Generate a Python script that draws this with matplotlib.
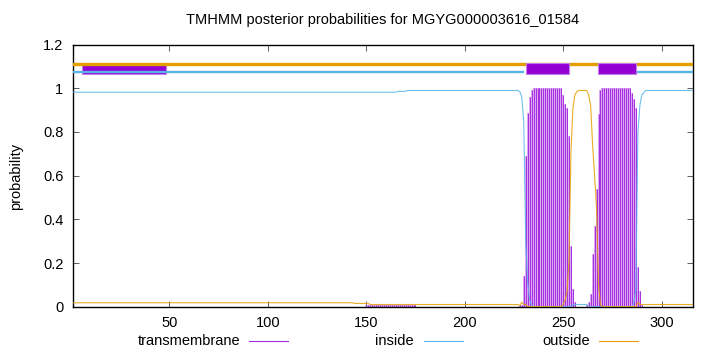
import numpy as np
import matplotlib
matplotlib.use("Agg")
import matplotlib.pyplot as plt
from matplotlib.patches import Rectangle
from matplotlib.lines import Line2D

plt.rcParams["font.family"] = ["Liberation Sans", "DejaVu Sans"]

TITLE = "TMHMM posterior probabilities for MGYG000003616_01584"
SEQ_LEN = 316

# per-residue posteriors, as (first, last, value) runs
tm_runs = [
    (1, 149, 0.0), (150, 175, 0.006), (176, 227, 0.0),
    (228, 228, 0.01), (229, 229, 0.01), (230, 230, 0.14), (231, 231, 0.69),
    (232, 232, 0.885), (233, 233, 0.96), (234, 234, 0.99), (235, 249, 1.0),
    (250, 250, 0.97), (251, 251, 0.93), (252, 252, 0.91), (253, 253, 0.78),
    (254, 254, 0.28), (255, 255, 0.08), (256, 256, 0.02), (257, 261, 0.0),
    (262, 262, 0.01), (263, 263, 0.02), (264, 264, 0.06), (265, 265, 0.24),
    (266, 266, 0.37), (267, 267, 0.54), (268, 268, 0.88), (269, 269, 0.99),
    (270, 284, 1.0), (285, 285, 0.98), (286, 286, 0.95), (287, 287, 0.91),
    (288, 288, 0.18), (289, 289, 0.07), (290, 290, 0.01), (291, 316, 0.0),
]
inside_runs = [
    (1, 165, 0.982), (166, 170, 0.986), (171, 227, 0.99),
    (228, 228, 0.985), (229, 229, 0.96), (230, 230, 0.85), (231, 231, 0.30),
    (232, 232, 0.11), (233, 233, 0.03), (234, 234, 0.01), (235, 254, 0.0),
    (255, 262, 0.01), (263, 285, 0.0), (286, 286, 0.02), (287, 287, 0.08),
    (288, 288, 0.80), (289, 289, 0.92), (290, 290, 0.97), (291, 291, 0.98),
    (292, 316, 0.99),
]
outside_runs = [
    (1, 143, 0.018), (144, 151, 0.015), (152, 227, 0.01),
    (228, 228, 0.005), (229, 229, 0.02), (230, 231, 0.01), (232, 249, 0.0),
    (250, 250, 0.01), (251, 251, 0.03), (252, 252, 0.07), (253, 253, 0.21),
    (254, 254, 0.71), (255, 255, 0.91), (256, 256, 0.97), (257, 257, 0.985),
    (258, 262, 0.99), (263, 263, 0.97), (264, 264, 0.92), (265, 265, 0.74),
    (266, 266, 0.60), (267, 267, 0.45), (268, 268, 0.10), (269, 269, 0.01),
    (270, 287, 0.0), (288, 288, 0.02), (289, 316, 0.01),
]

# topology bars along the top
tm_segments = [(231, 253), (268, 287)]
extra_box = (5.5, 48)
inside_segments = [(1, 229.7), (287.8, 316)]
outside_segments = [(1, 316)]


def expand(runs):
    vals = np.zeros(SEQ_LEN)
    for a, b, v in runs:
        vals[a - 1:b] = v
    return vals


pos = np.arange(1, SEQ_LEN + 1)
tm = expand(tm_runs)
inside = expand(inside_runs)
outside = expand(outside_runs)

PURPLE, BLUE, ORANGE = "#9400D3", "#56B4E9", "#E69F00"

fig = plt.figure(figsize=(7.2, 3.52), dpi=100)
ax = fig.add_axes([73 / 720, 1 - 306.7 / 352, 620 / 720, 262.1 / 352])

# impulses: light halo plus thin dark stroke, like gnuplot's antialiased lines
ax.vlines(pos, 0, tm, color="#dba6f2", lw=1.4, zorder=2)
ax.vlines(pos, 0, tm, color="#a62ee0", lw=0.7, zorder=2)
ax.plot(pos, inside, color=BLUE, lw=0.8, alpha=0.85, zorder=3)
ax.plot(pos, outside, color=ORANGE, lw=0.8, alpha=0.85, zorder=3)

# top bars
ax.add_patch(Rectangle((extra_box[0], 1.067), extra_box[1] - extra_box[0], 0.048,
                       facecolor=PURPLE, edgecolor="#c080e8", lw=0.8, zorder=3))
for a, b in outside_segments:
    ax.plot([a - 0.5, b + 0.5], [1.111, 1.111], color=ORANGE, lw=2.4,
            solid_capstyle="butt", zorder=4)
for a, b in inside_segments:
    ax.plot([a - 0.5, b + 0.5], [1.073, 1.073], color=BLUE, lw=1.7,
            solid_capstyle="butt", zorder=4)
for a, b in tm_segments:
    ax.add_patch(Rectangle((a - 0.1, 1.067), b - a + 0.1, 0.048,
                           facecolor=PURPLE, edgecolor="#c080e8", lw=0.8, zorder=5))

ax.set_xlim(1, SEQ_LEN)
ax.set_ylim(0, 1.2)
ax.set_xticks([50, 100, 150, 200, 250, 300])
ax.set_yticks([0, 0.2, 0.4, 0.6, 0.8, 1.0, 1.2])
ax.set_yticklabels(["0", "0.2", "0.4", "0.6", "0.8", "1", "1.2"])
ax.tick_params(direction="in", top=True, right=True, length=4, width=0.6,
               labelsize=10.5, color="#444444")
ax.tick_params(axis="x", pad=7)
ax.tick_params(axis="y", pad=7)
for s in ax.spines.values():
    s.set_linewidth(1.0)

fig.text(383 / 720, 1 - 20 / 352, TITLE, ha="center", va="center", fontsize=10.5)
fig.text(16 / 720, 1 - 176 / 352, "probability", rotation=90,
         ha="center", va="center", fontsize=10.5)

# legend row under the axis
leg_y = 1 - 341 / 352
for label, color, text_end, l0, l1 in [
    ("transmembrane", "#a030e0", 240, 249, 288),
    ("inside", BLUE, 414, 424, 463),
    ("outside", ORANGE, 590, 599, 638),
]:
    fig.text(text_end / 720, leg_y, label, ha="right", va="center", fontsize=10.5)
    fig.add_artist(Line2D([l0 / 720, l1 / 720], [leg_y, leg_y],
                          color=color, lw=0.8, transform=fig.transFigure))

fig.savefig("out.png", dpi=100)
